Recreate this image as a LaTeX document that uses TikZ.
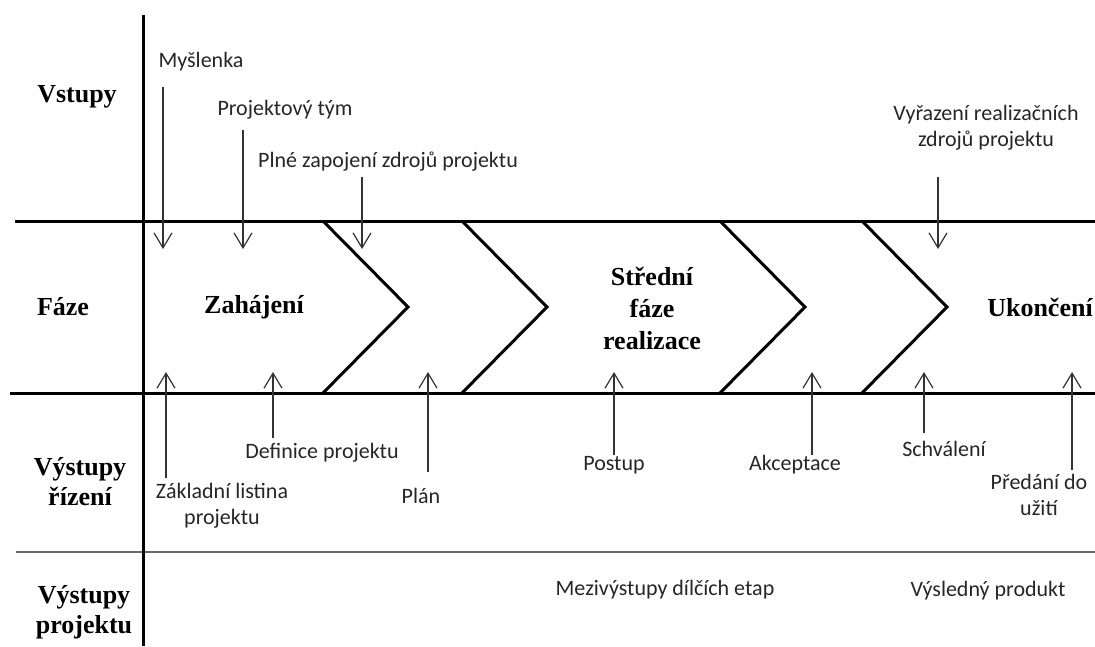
\documentclass[tikz,border=0pt]{standalone}
\usepackage{fontspec}
\setmainfont{Liberation Serif}
\newfontfamily\notefont{Carlito}
\usetikzlibrary{arrows.meta}

\tikzset{
	rowlabel/.style={font=\bfseries\fontsize{26}{30}\selectfont,align=center,inner sep=0pt},
	phaselabel/.style={font=\bfseries\fontsize{26}{32}\selectfont,align=center,inner sep=0pt},
	note/.style={font=\notefont\fontsize{22}{26}\selectfont,align=center,inner sep=0pt,text=black!85},
	frame/.style={line width=3pt},
	thinframe/.style={line width=2pt,draw=black!60},
	chevron/.style={line width=3pt,line join=miter},
	flow/.style={line width=1.2pt,draw=black!80,-{Straight Barb[length=15pt,width=18pt,line width=1.2pt]}},
}

\begin{document}
\begin{tikzpicture}[x=1pt,y=-1pt]
	\useasboundingbox (0,0) rectangle (1095,646);
	% grid lines
	\coordinate (vtop) at (143,15);
	\coordinate (vbot) at (143,646);
	\coordinate (ul) at (15,221);
	\coordinate (ur) at (1095,221);
	\coordinate (ml) at (10,393);
	\coordinate (mr) at (1095,393);
	\coordinate (ll) at (16,552);
	\coordinate (lr) at (1095,552);
	\draw[thinframe] (ll) -- (lr);
	\draw[frame] (ul) -- (ur);
	\draw[frame] (ml) -- (mr);
	\draw[frame] (vtop) -- (vbot);
	% chevrons
	\foreach \c/\x in {1/323,2/462,3/720,4/862}{
		\coordinate (ch\c t) at (\x,221);
		\coordinate (ch\c m) at (\x+85,307);
		\coordinate (ch\c b) at (\x,393);
		\draw[chevron] (ch\c t) -- (ch\c m) -- (ch\c b);
	}
	% row labels
	\node[rowlabel] (vstupy) at (77,97) {Vstupy};
	\node[rowlabel] (faze) at (63,307) {Fáze};
	\node[rowlabel] (rizeni) at (80,482) {Výstupy\\řízení};
	\node[rowlabel] (vyprojektu) at (84,612) {Výstupy\\projektu};
	% phases
	\node[phaselabel] (zahajeni) at (254,307) {Zahájení};
	\node[phaselabel] (stredni) at (652,308) {Střední\\fáze\\realizace};
	\node[phaselabel] (ukonceni) at (1040,307) {Ukončení};
	% inputs
	\node[note] (myslenka) at (201,62) {Myšlenka};
	\node[note] (tym) at (285,110) {Projektový tým};
	\node[note] (zapojeni) at (388,162) {Plné zapojení zdrojů projektu};
	\node[note] (vyrazeni) at (986,128) {Vyřazení realizačních\\zdrojů projektu};
	% control outputs
	\node[note] (listina) at (222,506) {Základní listina\\projektu};
	\node[note] (definice) at (322,453) {Definice projektu};
	\node[note] (plan) at (421,496) {Plán};
	\node[note] (postup) at (614,465) {Postup};
	\node[note] (akceptace) at (795,465) {Akceptace};
	\node[note] (schvaleni) at (944,449) {Schválení};
	\node[note] (predani) at (1039,495) {Předání do\\užití};
	% project outputs
	\node[note] (mezivystupy) at (665,590) {Mezivýstupy dílčích etap};
	\node[note] (produkt) at (988,591) {Výsledný produkt};
	% arrows
	\foreach \n/\x/\ya/\yb in {1/163/87/249,2/243/130/249,3/362/177/249,4/938/177/249,
		5/166/478/372,6/273/438/372,7/428/472/372,8/614/455/372,9/812/455/372,10/924/433/372,11/1072/470/372}{
		\coordinate (a\n s) at (\x,\ya);
		\coordinate (a\n e) at (\x,\yb);
		\draw[flow] (a\n s) -- (a\n e);
	}
\end{tikzpicture}
\end{document}
